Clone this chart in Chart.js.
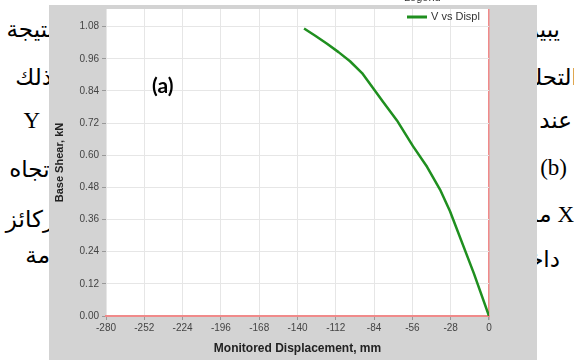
<!DOCTYPE html>
<html>
<head>
<meta charset="utf-8">
<script src="https://cdn.jsdelivr.net/npm/chart.js@4/dist/chart.umd.min.js"></script>
<style>
  body { margin:0; background:#fff; width:574px; height:360px; overflow:hidden; position:relative; }
  .ar { position:absolute; font-family:"Liberation Serif","DejaVu Sans",serif; font-size:23px; color:#000; white-space:nowrap; direction:rtl; z-index:0; line-height:30px; }
  #wrap { position:absolute; left:0; top:0; width:574px; height:360px; z-index:1; }
  #lbl { position:absolute; left:152px; top:72px; font-family:Lato,"Open Sans",sans-serif; font-weight:bold; font-size:21px; z-index:2; }
</style>
</head>
<body>
<!-- document text peeking out behind the chart image -->
<div class="ar" style="right:520px;top:15px">نتيجة</div>
<div class="ar" style="right:522px;top:63px">ذلك</div>
<div class="ar" style="right:534px;top:106px">Y</div>
<div class="ar" style="right:518px;top:155px">اتجاه</div>
<div class="ar" style="right:520px;top:205px">ركائز</div>
<div class="ar" style="right:524px;top:241px">مة</div>
<div class="ar" style="right:14px;top:15px">يبين</div>
<div class="ar" style="right:-4px;top:63px">التحليل</div>
<div class="ar" style="right:2px;top:106px">عند</div>
<div class="ar" style="right:7px;top:153px">(b)</div>
<div class="ar" style="right:0px;top:200px">X مستوى</div>
<div class="ar" style="right:14px;top:245px">داخل</div>

<div id="wrap"><canvas id="myChart" width="574" height="360"></canvas></div>
<div id="lbl">(a)</div>

<script>
const displ = [0, -11.0, -28.5, -35.8, -45.3, -55.6, -67.3, -77.5, -92.8, -101.6, -110, -118.4, -127, -135.2];
const shear = [0, 0.158, 0.391, 0.472, 0.557, 0.634, 0.730, 0.800, 0.907, 0.951, 0.985, 1.016, 1.046, 1.073];
const xTicks = [-280, -252, -224, -196, -168, -140, -112, -84, -56, -28, 0];
const yTicks = [0, 0.12, 0.24, 0.36, 0.48, 0.60, 0.72, 0.84, 0.96, 1.08];

const points = displ.map((d, i) => ({ x: d, y: shear[i] }));

const panel = {
  id: 'panel',
  beforeDraw(chart) {
    const c = chart.ctx;
    c.save();
    c.fillStyle = '#d3d3d3';
    c.fillRect(49, 5, 488, 355);
    const a = chart.chartArea;
    c.fillStyle = '#fff';
    c.fillRect(a.left, a.top, a.right - a.left, a.bottom - a.top);
    c.restore();
  },
  afterDraw(chart) {
    const c = chart.ctx;
    c.save();
    c.strokeStyle = '#1f8f1f';
    c.lineWidth = 3;
    c.beginPath();
    c.moveTo(407, 17);
    c.lineTo(427, 17);
    c.stroke();
    c.fillStyle = '#333';
    c.font = '11px "Liberation Sans", Arial, sans-serif';
    c.textBaseline = 'middle';
    c.fillText(chart.data.datasets[0].label, 431, 17);
    c.textBaseline = 'alphabetic';
    c.fillText('Legend', 404, 1);
    c.restore();
  }
};

const ctx = document.getElementById('myChart').getContext('2d');

const myChart = new Chart(ctx, {
  type: 'line',
  data: {
    datasets: [{
      label: 'V vs Displ',
      data: points,
      borderColor: '#1f8f1f',
      borderWidth: 2.5,
      pointRadius: 0,
      tension: 0,
      borderJoinStyle: 'round',
      fill: false
    }]
  },
  options: {
    responsive: false,
    animation: false,
    layout: { padding: { left: 49, right: 85, top: 5, bottom: 0 } },
    plugins: { legend: { display: false }, tooltip: { enabled: false } },
    scales: {
      x: {
        type: 'linear',
        min: -280,
        max: 0,
        afterBuildTicks: axis => { axis.ticks = xTicks.map(v => ({ value: v })); },
        afterFit: scale => { scale.height = 44; },
        grid: {
          color: c => c.tick && c.tick.value === 0 ? '#f08a8a' : '#e6e6e6',
          lineWidth: c => c.tick && c.tick.value === 0 ? 1.5 : 1,
          tickColor: '#999',
          tickLength: 4
        },
        border: { color: '#f08a8a', width: 2 },
        ticks: { color: '#444', font: { size: 10, family: '"Liberation Sans", Arial' }, padding: 2, maxRotation: 0 },
        title: { display: true, text: 'Monitored Displacement, mm', color: '#222',
                 font: { size: 12, weight: 'bold', family: '"Liberation Sans", Arial' }, padding: { top: 2 } }
      },
      y: {
        min: 0,
        max: 1.146,
        afterBuildTicks: axis => { axis.ticks = yTicks.map(v => ({ value: v })); },
        afterFit: scale => { scale.width = 57; },
        grid: { color: '#e6e6e6', tickColor: '#999', tickLength: 4 },
        border: { display: false },
        ticks: { color: '#444', font: { size: 10, family: '"Liberation Sans", Arial' }, padding: 3,
                 callback: v => v.toFixed(2) },
        title: { display: true, text: 'Base Shear, kN', color: '#222',
                 font: { size: 11, weight: 'bold', family: '"Liberation Sans", Arial' }, padding: { bottom: 0 } }
      }
    }
  },
  plugins: [panel]
});
</script>
</body>
</html>
